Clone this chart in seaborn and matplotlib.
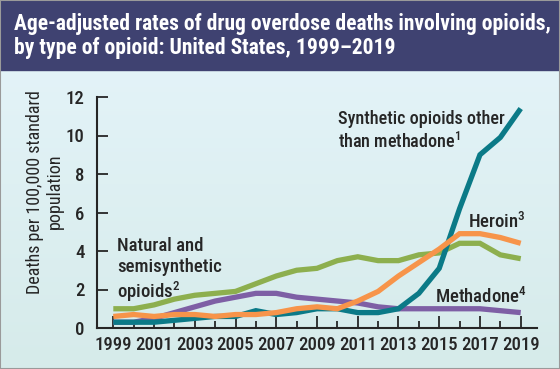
import numpy as np
import pandas as pd
import matplotlib
matplotlib.use("Agg")
import matplotlib.pyplot as plt
import seaborn as sns
from matplotlib.colors import LinearSegmentedColormap

years = list(range(1999, 2020))
synthetic = [0.3, 0.3, 0.3, 0.4, 0.5, 0.6, 0.6, 0.9, 0.7, 0.8, 1.0,
             1.0, 0.8, 0.8, 1.0, 1.8, 3.1, 6.2, 9.0, 9.9, 11.4]
heroin = [0.6, 0.7, 0.6, 0.7, 0.7, 0.6, 0.7, 0.7, 0.8, 1.0, 1.1,
          1.0, 1.4, 1.9, 2.7, 3.4, 4.1, 4.9, 4.9, 4.7, 4.4]
natural = [1.0, 1.0, 1.2, 1.5, 1.7, 1.8, 1.9, 2.3, 2.7, 3.0, 3.1,
           3.5, 3.7, 3.5, 3.5, 3.8, 3.9, 4.4, 4.4, 3.8, 3.6]
methadone = [0.3, 0.3, 0.5, 0.8, 1.1, 1.4, 1.6, 1.8, 1.8, 1.6, 1.5,
             1.4, 1.3, 1.1, 1.0, 1.0, 1.0, 1.0, 1.0, 0.9, 0.8]

series_names = ["Methadone", "Natural", "Synthetic", "Heroin"]
colors = {"Methadone": "#7e5fa5", "Natural": "#8daf4e",
          "Synthetic": "#0b7a87", "Heroin": "#f7944a"}
yticks = [0, 2, 4, 6, 8, 10, 12]

title = ("Age-adjusted rates of drug overdose deaths involving opioids,\n"
         "by type of opioid: United States, 1999\u20132019")

df = pd.DataFrame({
    "year": years * 4,
    "rate": methadone + natural + synthetic + heroin,
    "series": sum([[n] * len(years) for n in series_names], []),
})

sns.set_style("ticks")
fonts = ["Roboto Condensed", "DejaVu Sans"]
plt.rcParams["font.family"] = fonts
plt.rcParams["font.weight"] = "medium"
# superscript footnote marks drawn with mathtext in the same face
plt.rcParams["mathtext.fontset"] = "custom"
plt.rcParams["mathtext.rm"] = "Roboto Condensed:medium"
plt.rcParams["mathtext.it"] = "Roboto Condensed:medium"
plt.rcParams["mathtext.bf"] = "Roboto Condensed:bold"
plt.rcParams["mathtext.default"] = "rm"

fig = plt.figure(figsize=(5.6, 3.69), dpi=100)

# background gradient + title banner
bg = fig.add_axes([0, 0, 1, 1], zorder=-5)
grad = np.linspace(0, 1, 256).reshape(-1, 1)
cmap = LinearSegmentedColormap.from_list("bg", ["#e6f5fb", "#d6ebea"])
bg.imshow(grad, aspect="auto", cmap=cmap, extent=[0, 1, 0, 1])
bg.add_patch(plt.Rectangle((0, 1 - 70 / 369), 1, 70 / 369, color="#3f4271"))
bg.add_patch(plt.Rectangle((0, 0), 1, 1, fill=False, edgecolor="#9a9a9a", lw=1.5))
bg.set_xlim(0, 1)
bg.set_ylim(0, 1)
bg.axis("off")
fig.text(14 / 560, 1 - 36 / 369, title, color="white", fontsize=15.5,
         fontweight="bold", va="center", ha="left", linespacing=1.1)

ax = fig.add_axes([97 / 560, 41 / 369, 440 / 560, 231 / 369])
ax.patch.set_alpha(0)
sns.lineplot(data=df, x="year", y="rate", hue="series", palette=colors,
             linewidth=3.8, legend=False, ax=ax, solid_joinstyle="miter",
             solid_capstyle="butt")

ax.set_xlim(1998.2, 2019.8)
ax.set_ylim(0, 12)
ax.set_xticks([y for y in years if y % 2 == 1])
ax.set_xticks([y for y in years if y % 2 == 0], minor=True)
ax.set_yticks(yticks)
ax.tick_params(axis="x", which="major", direction="in", length=9, width=1.3,
               labelsize=13.5, pad=6)
ax.tick_params(axis="x", which="minor", direction="in", length=5, width=1.3)
ax.tick_params(axis="y", direction="in", length=8, width=1.3, labelsize=13.5,
               pad=9)
for s in ["top", "right"]:
    ax.spines[s].set_visible(False)
for s in ["left", "bottom"]:
    ax.spines[s].set_linewidth(1.5)
ax.set_xlabel("")
ax.set_ylabel("Deaths per 100,000 standard\npopulation", fontsize=13,
              linespacing=1.1, ha="center", va="center")
ax.yaxis.set_label_coords((45 - 97) / 440, 0.59)

ax.text(2010.05, 10.24, "Synthetic opioids other\nthan methadone$^1$",
        fontsize=13, ha="left", va="center", linespacing=1.2)
ax.text(2016.4, 5.52, "Heroin$^3$", fontsize=13.5, ha="left", va="center")
ax.text(2014.8, 1.63, "Methadone$^4$", fontsize=13.5, ha="left", va="center")
ax.text(1999.18, 3.0, "Natural and\nsemisynthetic\nopioids$^2$", fontsize=13.5,
        ha="left", va="center", linespacing=1.2)

fig.savefig("out.png", dpi=100)
